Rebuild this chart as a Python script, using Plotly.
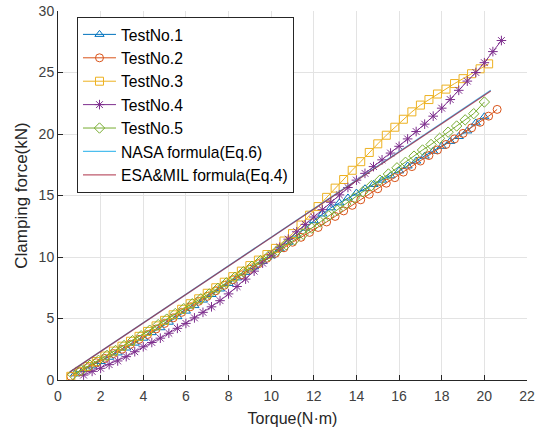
import plotly.graph_objects as go

# Test No.1 (blue triangles)
t1_x = [0.8, 1.2, 1.6, 2.0, 2.4, 2.8, 3.2, 3.6, 4.0, 4.4, 4.8, 5.2, 5.6, 6.0, 6.4, 6.8, 7.2, 7.6, 8.0, 8.4,
        8.8, 9.2, 9.6, 10.0, 10.4, 10.8, 11.2, 11.6, 12.0, 12.4, 12.8, 13.2, 13.6, 14.0, 14.4, 14.8, 15.2,
        15.6, 16.0, 16.4, 16.8, 17.2, 17.6, 18.0, 18.4, 18.8, 19.2, 19.6, 20.0]
t1_y = [0.5, 0.85, 1.15, 1.5, 1.85, 2.2, 2.6, 3.0, 3.4, 3.85, 4.25, 4.7, 5.15, 5.6, 6.05, 6.5, 6.95, 7.4,
        7.85, 8.3, 8.75, 9.2, 9.65, 10.1, 10.65, 11.2, 11.75, 12.35, 12.95, 13.5, 14.0, 14.4, 14.8, 15.2,
        15.55, 15.9, 16.25, 16.6, 17.0, 17.4, 17.8, 18.2, 18.6, 19.0, 19.4, 19.8, 20.25, 20.9, 21.4]

# Test No.2 (orange circles)
t2_x = [0.6, 1.0, 1.4, 1.8, 2.2, 2.6, 3.0, 3.4, 3.8, 4.2, 4.6, 5.0, 5.4, 5.8, 6.2, 6.6, 7.0, 7.4, 7.8, 8.2,
        8.6, 9.0, 9.4, 9.8, 10.2, 10.6, 11.0, 11.4, 11.8, 12.2, 12.6, 13.0, 13.4, 13.8, 14.2, 14.6, 15.0,
        15.4, 15.8, 16.2, 16.6, 17.0, 17.4, 17.8, 18.2, 18.6, 19.0, 19.4, 19.8, 20.2, 20.6]
t2_y = [0.3, 0.65, 1.0, 1.4, 1.75, 2.15, 2.5, 2.9, 3.3, 3.7, 4.15, 4.6, 5.05, 5.5, 5.95, 6.4, 6.8, 7.25,
        7.7, 8.15, 8.55, 9.0, 9.45, 9.9, 10.3, 10.75, 11.2, 11.6, 12.0, 12.4, 12.85, 13.3, 13.75, 14.2,
        14.65, 15.1, 15.55, 16.0, 16.45, 16.9, 17.35, 17.8, 18.25, 18.7, 19.15, 19.6, 20.05, 20.5, 20.95,
        21.45, 22.0]

# Test No.3 (yellow squares)
t3_x = [0.6, 1.0, 1.4, 1.8, 2.2, 2.6, 3.0, 3.4, 3.8, 4.2, 4.6, 5.0, 5.4, 5.8, 6.2, 6.6, 7.0, 7.4, 7.8, 8.2,
        8.6, 9.0, 9.4, 9.8, 10.2, 10.6, 11.0, 11.4, 11.8, 12.2, 12.6, 13.0, 13.4, 13.8, 14.2, 14.6, 15.0,
        15.4, 15.8, 16.2, 16.6, 17.0, 17.4, 17.8, 18.2, 18.6, 19.0, 19.4, 19.8, 20.2]
t3_y = [0.3, 0.7, 1.1, 1.5, 1.95, 2.35, 2.75, 3.15, 3.55, 3.95, 4.4, 4.85, 5.3, 5.75, 6.2, 6.6, 7.05, 7.5,
        7.95, 8.4, 8.85, 9.3, 9.75, 10.2, 10.7, 11.3, 11.9, 12.6, 13.4, 14.1, 14.85, 15.6, 16.3, 17.05,
        17.75, 18.5, 19.2, 19.9, 20.55, 21.2, 21.8, 22.35, 22.8, 23.25, 23.65, 24.1, 24.5, 24.9, 25.3, 25.7]

# Test No.4 (purple asterisks)
t4_x = [1.2, 1.6, 2.0, 2.4, 2.8, 3.2, 3.6, 4.0, 4.4, 4.8, 5.2, 5.6, 6.0, 6.4, 6.8, 7.2, 7.6, 8.0, 8.4, 8.8,
        9.2, 9.6, 10.0, 10.4, 10.8, 11.2, 11.6, 12.0, 12.4, 12.8, 13.2, 13.6, 14.0, 14.4, 14.8, 15.2, 15.6,
        16.0, 16.4, 16.8, 17.2, 17.6, 18.0, 18.4, 18.8, 19.2, 19.6, 20.0, 20.4, 20.8]
t4_y = [0.4, 0.7, 0.95, 1.25, 1.55, 1.9, 2.3, 2.7, 3.05, 3.4, 3.8, 4.2, 4.6, 5.05, 5.5, 5.95, 6.45, 7.0,
        7.6, 8.2, 8.85, 9.5, 10.15, 10.8, 11.45, 12.05, 12.65, 13.25, 13.85, 14.45, 15.05, 15.65, 16.25,
        16.8, 17.35, 17.9, 18.45, 19.0, 19.6, 20.2, 20.8, 21.45, 22.1, 22.8, 23.55, 24.3, 25.0, 25.8,
        26.7, 27.6]

# Test No.5 (green diamonds)
t5_x = [0.7, 1.1, 1.5, 1.9, 2.3, 2.7, 3.1, 3.5, 3.9, 4.3, 4.7, 5.1, 5.5, 5.9, 6.3, 6.7, 7.1, 7.5, 7.9, 8.3,
        8.7, 9.1, 9.5, 9.9, 10.3, 10.7, 11.1, 11.5, 11.9, 12.3, 12.7, 13.1, 13.5, 13.9, 14.3, 14.7, 15.1,
        15.5, 15.9, 16.3, 16.7, 17.1, 17.5, 17.9, 18.3, 18.7, 19.1, 19.5, 20.0]
t5_y = [0.45, 0.8, 1.2, 1.6, 2.0, 2.4, 2.8, 3.2, 3.6, 4.05, 4.5, 4.95, 5.4, 5.8, 6.2, 6.6, 7.0, 7.45,
        7.9, 8.35, 8.8, 9.25, 9.7, 10.1, 10.55, 11.0, 11.4, 11.85, 12.35, 12.85, 13.35, 13.8, 14.3, 14.8,
        15.3, 15.8, 16.25, 16.75, 17.25, 17.7, 18.2, 18.7, 19.15, 19.65, 20.15, 20.65, 21.15, 21.65, 22.6]

# Formula lines
nasa_x = [0.55, 20.3]
nasa_y = [0.65, 23.55]
esa_x = [0.55, 20.3]
esa_y = [0.64, 23.5]

names = ["TestNo.1", "TestNo.2", "TestNo.3", "TestNo.4", "TestNo.5"]
colors = ["#0072BD", "#D95319", "#EDB120", "#7E2F8E", "#77AC30"]
symbols = ["triangle-up-open", "circle-open", "square-open", "asterisk-open", "diamond-open"]
xs = [t1_x, t2_x, t3_x, t4_x, t5_x]
ys = [t1_y, t2_y, t3_y, t4_y, t5_y]

fig = go.Figure()
for i in range(5):
    fig.add_trace(go.Scatter(
        x=xs[i], y=ys[i], name=names[i], mode="lines+markers",
        line=dict(color=colors[i], width=1),
        marker=dict(symbol=symbols[i], size=8, color=colors[i],
                    line=dict(color=colors[i], width=1)),
        legendgroup=names[i],
    ))
fig.add_trace(go.Scatter(x=nasa_x, y=nasa_y, name="NASA formula(Eq.6)", mode="lines",
                         line=dict(color="#4DBEEE", width=1.3), legendgroup="nasa"))
fig.add_trace(go.Scatter(x=esa_x, y=esa_y, name="ESA&MIL formula(Eq.4)", mode="lines",
                         line=dict(color="#A2142F", width=1.3), opacity=0.7, legendgroup="esa"))

font_family = "Liberation Sans, Arial, Helvetica, sans-serif"
fig.update_layout(
    width=543, height=432,
    margin=dict(l=58, r=16, t=11, b=52, autoexpand=False),
    paper_bgcolor="white", plot_bgcolor="white",
    font=dict(family=font_family, size=14, color="#262626"),
    showlegend=True,
    legend=dict(x=0.0405, y=0.9846, xanchor="left", yanchor="top",
                bgcolor="white", bordercolor="#262626", borderwidth=1,
                font=dict(family=font_family, size=15.7, color="#000000"),
                tracegroupgap=0, itemwidth=33),
    xaxis=dict(range=[0, 22], tickvals=list(range(0, 23, 2)),
               showgrid=True, gridcolor="#e3e3e3", gridwidth=1,
               showline=True, linecolor="#262626", linewidth=1,
               ticks="inside", ticklen=5, tickcolor="#262626",
               zeroline=False, mirror=False, automargin=False,
               ticklabelstandoff=3,
               title=dict(text="Torque(N·m)", font=dict(size=16, color="#262626"), standoff=10),
               tickfont=dict(size=14, color="#404040")),
    yaxis=dict(range=[0, 30], tickvals=list(range(0, 31, 5)),
               showgrid=True, gridcolor="#e3e3e3", gridwidth=1,
               showline=True, linecolor="#262626", linewidth=1,
               ticks="inside", ticklen=5, tickcolor="#262626",
               zeroline=False, mirror=False, automargin=False,
               title=dict(text="Clamping force(kN)", font=dict(size=17, color="#262626"), standoff=6),
               tickfont=dict(size=14, color="#404040")),
)

# remove the page's default 8px body margin so the figure sits at the window origin
fig.write_html("out.html", config={"displayModeBar": False},
               post_script="document.body.style.margin='0';")
